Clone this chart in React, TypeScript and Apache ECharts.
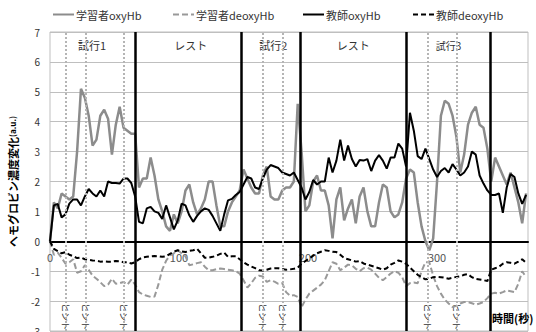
import React, { useEffect, useRef } from 'react';
import * as echarts from 'echarts';

const STEP = 3; // seconds between samples
const seriesNames = ['学習者oxyHb', '学習者deoxyHb', '教師oxyHb', '教師deoxyHb'];

const learnerOxy = [
  0, 1.3, 1.1, 1.6, 1.5, 1.4, 1.5, 3.0, 5.1, 4.8,
  4.2, 3.2, 3.4, 4.2, 4.4, 4.1, 2.9, 3.9, 4.5, 3.8,
  3.7, 3.6, 3.6, 1.8, 2.1, 2.1, 2.8, 2.2, 1.4, 1.0,
  0.5, 0.35, 0.9, 0.6, 1.0, 1.7, 1.9, 1.3, 0.9, 1.1,
  1.4, 2.0, 2.0, 1.2, 0.5, 0.5, 1.0, 1.3, 1.5, 1.7,
  2.4, 2.1, 1.8, 1.6, 1.6, 2.2, 2.5, 1.5, 1.4, 1.4,
  1.7, 1.8, 1.8, 2.0, 4.6, 3.0, 1.0, 1.2, 2.0, 2.2,
  1.7, 1.7, 1.2, 0.1, 1.4, 1.8, 0.7, 1.1, 1.4, 0.6,
  1.5, 1.8, 1.0, 0.5, 0.5, 1.3, 1.9, 1.8, 1.0, 0.8,
  0.9, 1.3, 2.1, 2.4, 2.3, 1.3, 0.5, 0.0, -0.3, 0.1,
  2.0, 4.2, 4.7, 4.6, 4.2, 3.5, 2.3, 2.9, 3.9, 4.3,
  4.5, 3.9, 3.8, 3.1, 2.0, 2.8, 2.5, 2.2, 1.9, 2.3,
  1.8, 1.3, 0.6, 1.6,
];

const learnerDeoxy = [
  0, -0.45, -0.38, -0.55, -0.75, -0.7, -0.6, -1.05, -1.0, -0.8,
  -0.95, -1.15, -1.25, -1.37, -1.5, -1.45, -1.25, -1.42, -1.4, -1.36,
  -1.45, -1.28, -1.45, -1.7, -1.78, -1.82, -1.86, -1.85, -1.45, -0.95,
  -0.65, -0.47, -0.4, -0.3, -0.4, -0.5, -0.8, -0.77, -0.73, -0.7,
  -0.85, -0.97, -0.97, -0.93, -0.91, -0.93, -0.95, -0.97, -1.0, -1.08,
  -1.3, -1.55, -1.4, -1.22, -1.15, -1.18, -1.36, -1.3, -1.35, -1.42,
  -1.4, -1.7, -1.82, -1.8, -1.86, -2.2, -1.95, -1.75, -1.65, -1.55,
  -1.45, -1.3, -1.0, -0.7, -0.75, -0.97, -0.88, -0.78, -0.8, -0.92,
  -1.0, -0.9, -0.88, -0.95, -1.08, -1.22, -1.3, -1.2, -1.08, -1.0,
  -1.05, -1.2, -1.5, -1.4, -1.38, -1.4, -1.0, -0.7, -0.7, -1.15,
  -1.5, -1.75, -1.95, -2.08, -2.2, -2.16, -2.08, -2.03, -2.03, -2.07,
  -2.12, -2.08, -2.03, -1.9, -1.75, -1.72, -1.75, -1.7, -1.64, -1.67,
  -1.7, -1.42, -1.0, -1.2,
];

const teacherOxy = [
  0, 1.2, 1.25, 0.8, 0.9, 1.26, 1.4, 1.4, 1.2, 1.5,
  1.75, 1.6, 1.5, 1.7, 1.5, 2.0, 1.95, 1.95, 1.93, 2.1,
  2.1, 1.95, 1.5, 0.65, 0.6, 1.1, 1.15, 1.0, 0.95, 0.75,
  1.2, 0.8, 0.4, 0.7, 1.26, 1.2, 0.87, 0.65, 0.85, 1.0,
  1.1, 1.05, 0.85, 0.6, 0.35, 0.9, 1.37, 1.42, 1.55, 1.65,
  1.9, 2.15, 2.1, 1.8, 1.75, 2.1, 2.4, 2.55, 2.5, 2.45,
  2.3, 2.25, 2.2, 2.3, 2.05, 1.8, 1.4, 1.65, 2.05, 1.9,
  2.0, 2.0, 2.8, 2.3, 2.7, 3.4, 2.7, 3.2, 2.75, 2.5,
  2.72, 2.7, 2.75, 2.35, 2.7, 2.88, 2.7, 2.43, 2.8, 2.8,
  3.27, 3.1, 2.5, 4.3, 3.7, 2.85, 2.75, 3.1, 2.75, 2.4,
  2.15, 2.35, 2.45, 2.3, 2.58, 2.4, 2.2, 2.3, 2.5, 3.0,
  2.9, 2.2, 1.93, 1.7, 1.55, 1.55, 1.6, 0.95, 1.8, 2.25,
  2.15, 1.6, 1.25, 1.55,
];

const teacherDeoxy = [
  0, -0.25, -0.33, -0.4, -0.36, -0.45, -0.5, -0.56, -0.54, -0.6,
  -0.62, -0.64, -0.65, -0.68, -0.67, -0.68, -0.68, -0.66, -0.67, -0.7,
  -0.7, -0.74, -0.7, -0.6, -0.54, -0.52, -0.5, -0.49, -0.5, -0.52,
  -0.5, -0.42, -0.35, -0.3, -0.34, -0.36, -0.32, -0.3, -0.25, -0.4,
  -0.55, -0.55, -0.52, -0.48, -0.42, -0.38, -0.52, -0.5, -0.5, -0.6,
  -0.7, -0.78, -0.84, -0.9, -0.97, -0.98, -0.95, -0.91, -0.9, -0.9,
  -0.93, -0.95, -0.94, -0.92, -0.88, -0.75, -0.66, -0.57, -0.48, -0.4,
  -0.35, -0.3, -0.32, -0.35, -0.36, -0.45, -0.56, -0.6, -0.64, -0.68,
  -0.66, -0.74, -0.78, -0.82, -0.86, -0.9, -0.95, -0.9, -0.78, -0.72,
  -0.64, -0.68, -0.75, -0.88, -1.0, -1.12, -1.2, -1.27, -1.25, -1.2,
  -1.19, -1.2, -1.22, -1.25, -1.22, -1.19, -1.17, -1.12, -1.1, -1.2,
  -1.26, -1.28, -1.3, -1.33, -0.95, -0.9, -0.85, -0.75, -0.7, -0.72,
  -0.75, -0.68, -0.6, -0.72,
];

const xTicks = [0, 100, 200, 300];
const phaseLines = [66, 148, 194, 276, 341];
const hintTimes = [12.4, 27.9, 57.4, 165, 180.6, 293, 315.5];
const hintText = 'ヒント';
const sectionLabels = ['試行1', 'レスト', '試行2', 'レスト', '試行3'];
const sectionTimes = [32.6, 109, 173, 235, 309];
const sectionLevel = 6.55;
const hintLevel = -2.52;
const xTitle = '時間(秒)';

const FONT = '"Noto Sans CJK JP", "Noto Sans", sans-serif';
const legendLefts = [47, 167, 297, 407];

const toPairs = (vals: number[]) => vals.map((v, i) => [i * STEP, v]);

export default function App() {
  const ref = useRef<HTMLDivElement>(null);
  useEffect(() => {
    if (!ref.current) return;
    const chart = echarts.init(ref.current, undefined, { renderer: 'svg' });
    const option: any = {
      animation: false,
      textStyle: { fontFamily: FONT },
      legend: seriesNames.map((n, i) => ({
        data: [n],
        left: legendLefts[i],
        top: 4,
        itemWidth: 21,
        itemHeight: 10,
        itemStyle: { opacity: 0 },
        textStyle: { fontSize: 11, color: '#333', fontFamily: FONT, padding: [0, 0, 0, -3] },
      })),
      grid: {
        left: 50,
        top: 32,
        right: 8,
        bottom: 1,
        show: true,
        borderColor: '#bfbfbf',
        borderWidth: 1,
        containLabel: false,
        outerBoundsMode: 'none',
      },
      xAxis: {
        type: 'value',
        min: 0,
        max: 370.5,
        interval: 100,
        axisLine: { onZero: true, lineStyle: { color: '#000', width: 2 } },
        axisTick: { show: false },
        splitLine: { show: false },
        axisLabel: { show: false },
      },
      yAxis: {
        type: 'value',
        min: -3,
        max: 7,
        interval: 1,
        axisLine: { show: false },
        axisTick: { show: false },
        splitLine: { lineStyle: { color: '#bfbfbf', width: 1 } },
        axisLabel: { fontSize: 10, color: '#333', margin: 10, fontFamily: FONT },
        name: '{a|ヘモグロビン濃度変化}{b|(a.u.)}',
        nameLocation: 'middle',
        nameGap: 32,
        nameRotate: 90,
        nameTextStyle: {
          rich: {
            a: { fontSize: 11, fontWeight: 'bold', color: '#000', fontFamily: FONT },
            b: { fontSize: 8, fontWeight: 'bold', color: '#000', fontFamily: FONT },
          },
        },
      },
      series: [
        {
          name: seriesNames[0],
          type: 'line',
          data: toPairs(learnerOxy),
          symbol: 'none',
          lineStyle: { color: '#8c8c8c', width: 2.5 },
          itemStyle: { color: '#8c8c8c' },
          markLine: {
            silent: true,
            symbol: ['none', 'none'],
            label: { show: false },
            lineStyle: { color: '#b5b5b5', width: 2, type: 'dotted' },
            data: hintTimes.map((t) => ({ xAxis: t })),
          },
        },
        {
          name: seriesNames[1],
          type: 'line',
          data: toPairs(learnerDeoxy),
          symbol: 'none',
          lineStyle: { color: '#999', width: 2, type: [6, 3] },
          itemStyle: { color: '#999' },
        },
        {
          name: seriesNames[2],
          type: 'line',
          data: toPairs(teacherOxy),
          symbol: 'none',
          lineStyle: { color: '#000', width: 2 },
          itemStyle: { color: '#000' },
        },
        {
          name: seriesNames[3],
          type: 'line',
          data: toPairs(teacherDeoxy),
          symbol: 'none',
          lineStyle: { color: '#000', width: 2, type: [5, 3] },
          itemStyle: { color: '#000' },
          markLine: {
            silent: true,
            symbol: ['none', 'none'],
            label: { show: false },
            lineStyle: { color: '#000', width: 2.5, type: 'solid' },
            data: phaseLines.map((t) => ({ xAxis: t })),
          },
        },
      ],
    };
    chart.setOption(option);

    const px = (t: number, v: number) =>
      chart.convertToPixel({ xAxisIndex: 0, yAxisIndex: 0 }, [t, v]) as number[];

    const textStyle = (text: string, font: string, fill: string, align = 'center') => ({
      text,
      fill,
      font,
      align,
      verticalAlign: 'middle',
      textAlign: align,
      textVerticalAlign: 'middle',
    });

    const graphics: any[] = [];
    xTicks.forEach((t) => {
      const [x, y] = px(t, 0);
      graphics.push({
        type: 'text',
        x,
        y: y + 16,
        silent: true,
        z: 1,
        style: textStyle(String(t), `11px ${FONT}`, '#555'),
      });
    });
    sectionLabels.forEach((label, i) => {
      const [x, y] = px(sectionTimes[i], sectionLevel);
      graphics.push({
        type: 'text',
        x,
        y,
        silent: true,
        style: textStyle(label, `${i === 4 ? 10 : 11}px ${FONT}`, '#333'),
      });
    });
    hintTimes.forEach((t) => {
      const [x, y] = px(t, hintLevel);
      graphics.push({
        type: 'text',
        x: x - 0.5,
        y,
        rotation: -Math.PI / 2,
        silent: true,
        style: textStyle(hintText, `9px ${FONT}`, '#333'),
      });
    });
    graphics.push({
      type: 'text',
      x: 492,
      y: 318,
      silent: true,
      style: textStyle(xTitle, `bold 11px ${FONT}`, '#000', 'left'),
    });
    chart.setOption({ graphic: graphics });

    return () => chart.dispose();
  }, []);

  return (
    <div
      ref={ref}
      style={{ position: 'absolute', left: 0, top: 0, width: 536, height: 332 }}
    />
  );
}
